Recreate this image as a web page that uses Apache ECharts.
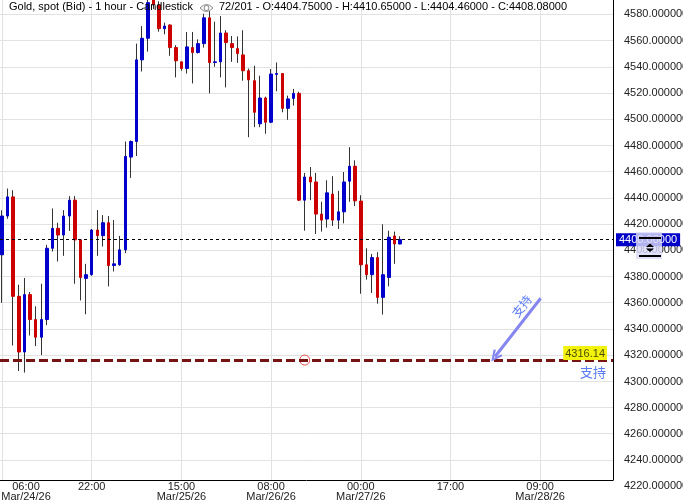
<!DOCTYPE html>
<html><head><meta charset="utf-8">
<script src="https://cdn.jsdelivr.net/npm/echarts@6/dist/echarts.min.js"></script>
<style>html,body{margin:0;padding:0;background:#fff}#c{width:683px;height:503px}</style>
</head><body><div id="c"></div>
<script>
// ---- data (hourly candles, index 0 = 06:00 Mar/24/26) ----
const opens  = [4396.5,4426.1,4440.7,4364.8,4322.3,4366.1,4347.1,4333.6,4347.1,4401.5,4416.7,4411.6,4426.1,4438.2,4407.9,4378.5,4381.3,4415.4,4411.1,4421.0,4388.3,4388.9,4400.3,4471.1,4483.0,4545.3,4561.8,4593.0,4587.0,4569.1,4571.9,4554.7,4543.8,4538.7,4554.7,4550.9,4557.7,4577.4,4543.3,4543.8,4565.8,4557.7,4553.9,4549.1,4537.0,4529.4,4496.5,4516.2,4497.7,4534.2,4534.9,4508.3,4515.9,4519.7,4438.2,4455.9,4452.1,4427.6,4423.8,4442.8,4423.0,4429.3,4452.7,4464.1,4437.5,4388.9,4381.3,4394.4,4364.0,4379.2,4410.9,4404.75];
const closes = [4426.1,4440.7,4364.8,4322.3,4366.1,4347.1,4333.6,4347.1,4401.5,4416.7,4411.6,4426.1,4438.2,4407.9,4379.2,4381.3,4415.4,4411.1,4421.0,4388.3,4389.6,4400.3,4471.6,4483.0,4545.3,4561.8,4589.0,4587.5,4569.1,4571.1,4554.7,4544.6,4538.7,4555.2,4550.9,4557.7,4577.4,4543.3,4543.8,4565.8,4558.5,4554.7,4550.1,4537.0,4530.1,4505.3,4516.2,4497.7,4534.5,4534.9,4508.3,4515.5,4519.7,4438.2,4455.9,4452.1,4427.6,4423.0,4443.8,4423.0,4429.3,4452.1,4464.1,4437.7,4388.9,4381.3,4394.4,4364.0,4381.3,4409.9,4404.8,4408.08];
const lows   = [4359.8,4424.0,4327.3,4307.8,4306.6,4334.9,4326.8,4320.0,4342.8,4399.0,4391.4,4395.7,4414.7,4374.4,4361.7,4351.1,4380.5,4395.7,4402.8,4372.4,4383.8,4388.1,4397.7,4455.2,4471.9,4536.4,4551.6,4584.0,4566.8,4564.8,4548.4,4531.9,4537.0,4534.9,4527.3,4550.1,4554.7,4519.7,4540.0,4531.9,4524.3,4543.8,4543.0,4529.4,4486.3,4493.9,4493.9,4488.9,4497.0,4521.3,4505.3,4499.5,4510.4,4437.5,4414.9,4438.2,4412.4,4414.2,4417.2,4418.5,4416.2,4420.5,4437.0,4433.7,4366.8,4377.5,4367.4,4359.2,4350.9,4372.4,4389.6,4404.46];
const highs  = [4430.5,4447.1,4445.8,4373.7,4378.8,4368.1,4357.2,4374.4,4404.1,4431.9,4421.0,4430.6,4441.3,4441.3,4408.5,4389.6,4416.2,4430.6,4426.8,4426.1,4423.0,4410.9,4483.0,4483.8,4557.7,4571.1,4594.0,4597.0,4590.0,4573.7,4572.5,4556.5,4543.8,4566.6,4566.6,4561.0,4580.5,4582.5,4574.4,4578.7,4567.9,4563.5,4563.2,4567.9,4538.7,4540.8,4533.2,4517.2,4538.3,4543.3,4535.2,4518.0,4523.1,4521.0,4459.0,4463.5,4459.0,4437.0,4453.4,4456.5,4445.3,4459.7,4478.7,4468.6,4442.0,4401.5,4397.2,4398.5,4419.8,4414.9,4414.2,4410.65];

const xTickIdx    = [0, 16, 32, 48, 64, 80, 96];
const xTickLabels = ['06:00\nMar/24/26', '22:00', '15:00\nMar/25/26', '08:00\nMar/26/26', '00:00\nMar/27/26', '17:00', '09:00\nMar/28/26'];
const yTickLabels = [4220,4240,4260,4280,4300,4320,4340,4360,4380,4400,4420,4440,4460,4480,4500,4520,4540,4560,4580];
const yGridValues = [4240,4260,4280,4300,4320,4340,4360,4380,4400,4420,4440,4460,4480,4500,4520,4540,4560,4580];

const supportLevel = 4316.14;
const supportText = '支持';
const supportCircle = [[54, 4316.14]];
const supportArrow = [[87.94, 4318.7], [96.1, 4363.3]];
const totalBars = 201;

const X_MIN = -0.36, X_MAX = 109.0;
const Y_MAX = 4591, Y_MIN_PLOT = 4224.6, Y_MIN_LABEL = 4218;

const n = closes.length;
const lastO = opens[n-1], lastC = closes[n-1], lastL = lows[n-1], lastH = highs[n-1];

const wickData = opens.map((o, i) => [i, o, closes[i], lows[i], highs[i]]);
const bodyData = opens.map((o, i) => [i, o, closes[i], Math.min(o, closes[i]), Math.max(o, closes[i])]);

const FONT = 'Liberation Sans, Arial, sans-serif';
const CJK = 'Noto Sans CJK SC, sans-serif';
const chevron = 'path://M5,0 L10,9 L8.2,10 L5,3.6 L1.8,10 L0,9 Z';

const chart = echarts.init(document.getElementById('c'), null, {renderer: 'canvas'});
chart.setOption({
  animation: false,
  backgroundColor: '#fff',
  textStyle: {fontFamily: FONT},
  title: [
    {text: 'Gold, spot (Bid) - 1 hour - Candlestick', left: 9, top: 1, padding: 0,
     textStyle: {fontSize: 11, fontWeight: 'normal', color: '#000', fontFamily: FONT}},
    {text: n + '/' + totalBars + ' - O:' + lastO.toFixed(5) + ' - H:' + lastH.toFixed(5) + ' - L:' + lastL.toFixed(5) + ' - C:' + lastC.toFixed(5),
     left: 219, top: 1, padding: 0,
     textStyle: {fontSize: 11, fontWeight: 'normal', color: '#000', fontFamily: FONT}}
  ],
  grid: [
    {left: 0, top: 0, width: 613, height: 480, outerBoundsMode: 'none', containLabel: false},
    {left: 0, top: 0, width: 613, height: 489, outerBoundsMode: 'none', containLabel: false}
  ],
  xAxis: [
    {type: 'value', gridIndex: 0, min: X_MIN, max: X_MAX,
     axisLine: {show: true, onZero: false, lineStyle: {color: '#000', width: 1}},
     axisTick: {show: false, customValues: xTickIdx},
     splitLine: {show: true, lineStyle: {color: '#e2e2e2', width: 1}},
     axisLabel: {show: true, customValues: xTickIdx, margin: 2, fontSize: 11, lineHeight: 10, color: '#222', fontFamily: FONT,
       formatter: function (v) {
         const k = xTickIdx.indexOf(Math.round(v));
         if (k < 0) return '';
         if (k === 0) {
           return xTickLabels[0].split('\n').map(s => '{f|' + s + '}').join('\n');
         }
         return xTickLabels[k];
       },
       rich: {f: {fontSize: 11, lineHeight: 10, color: '#222', fontFamily: FONT, padding: [0, 0, 0, 48]}}
     }},
    {type: 'value', gridIndex: 1, min: X_MIN, max: X_MAX, show: false}
  ],
  yAxis: [
    {type: 'value', gridIndex: 0, position: 'right', min: Y_MIN_PLOT, max: Y_MAX,
     axisLine: {show: true, onZero: false, lineStyle: {color: '#000', width: 1}},
     axisTick: {show: false, customValues: yGridValues},
     axisLabel: {show: false, customValues: yGridValues},
     splitLine: {show: true, lineStyle: {color: '#e2e2e2', width: 1}}},
    {type: 'value', gridIndex: 1, position: 'right', min: Y_MIN_LABEL, max: Y_MAX,
     axisLine: {show: false, onZero: false}, splitLine: {show: false},
     axisTick: {show: false, customValues: yTickLabels},
     axisLabel: {show: true, customValues: yTickLabels, showMinLabel: true, showMaxLabel: true, margin: 11, fontSize: 11, color: '#222', fontFamily: FONT,
       formatter: v => v.toFixed(6)}}
  ],
  series: [
    {type: 'candlestick', name: 'wick', xAxisIndex: 0, yAxisIndex: 0, data: wickData, barWidth: 1, z: 2,
     itemStyle: {color: '#333', color0: '#333', borderColor: '#333', borderColor0: '#333', borderWidth: 1},
     emphasis: {disabled: true}, silent: true},
    {type: 'candlestick', name: 'body', xAxisIndex: 0, yAxisIndex: 0, data: bodyData, barWidth: 3, z: 3,
     itemStyle: {color: '#0000cc', color0: '#cc0000', borderColor: '#0000cc', borderColor0: '#cc0000', borderWidth: 1},
     emphasis: {disabled: true}, silent: true},
    {type: 'scatter', xAxisIndex: 0, yAxisIndex: 0, data: supportCircle, symbol: 'circle', symbolSize: 10, z: 4, silent: true,
     itemStyle: {color: 'rgba(0,0,0,0)', borderColor: '#e02828', borderWidth: 1},
     markLine: {
       silent: true, symbol: ['none', 'none'], animation: false,
       data: [
         {yAxis: supportLevel, lineStyle: {color: 'rgba(0,0,0,0)', width: 1, type: 'solid'},
          label: {show: true, position: 'insideEndBottom', formatter: supportText, color: '#5a7af2', distance: [7, 5], fontSize: 13, fontFamily: CJK}},
         {yAxis: supportLevel, lineStyle: {color: '#761414', width: 3, type: [9, 4]},
          label: {show: true, position: 'insideEndTop', formatter: supportLevel.toFixed(2), backgroundColor: '#f2f20c',
                  color: '#4d4d00', padding: [2, 2, 1, 2], distance: [6, 0], fontSize: 11, fontFamily: FONT}},
         {yAxis: lastC, lineStyle: {color: '#000', width: 1, type: [3, 3]},
          label: {show: true, position: 'end', formatter: lastC.toFixed(5), backgroundColor: '#0000c8', color: '#fff',
                  padding: [1, 3, 1, 3], distance: 3, fontSize: 11, fontFamily: FONT}},
         [
           {coord: supportArrow[0], symbol: chevron, symbolSize: [11, 12]},
           {coord: supportArrow[1], symbol: 'none',
            lineStyle: {color: '#8686f0', width: 3, type: 'solid'},
            label: {show: true, position: 'insideEndTop', formatter: supportText, color: '#5a7af2', distance: [6, 4], fontSize: 12, fontFamily: CJK}}
         ]
       ]
     }}
  ],
  graphic: [
    {type: 'bezierCurve', z: 100, shape: {x1: 200, y1: 8, x2: 213, y2: 8, cpx1: 206.5, cpy1: 1}, style: {fill: 'none', stroke: '#888', lineWidth: 1}},
    {type: 'bezierCurve', z: 100, shape: {x1: 200, y1: 8, x2: 213, y2: 8, cpx1: 206.5, cpy1: 15}, style: {fill: 'none', stroke: '#888', lineWidth: 1}},
    {type: 'circle', z: 100, shape: {cx: 206.5, cy: 8, r: 2.5}, style: {fill: 'none', stroke: '#888', lineWidth: 1}},
    {type: 'rect', z: 100, shape: {x: 636, y: 232, width: 26, height: 27}, style: {fill: 'rgba(218,218,248,0.82)'}},
    {type: 'rect', z: 101, shape: {x: 639, y: 237, width: 22, height: 2}, style: {fill: '#000'}},
    {type: 'polygon', z: 101, shape: {points: [[646, 247], [650, 243.5], [654, 247]]}, style: {fill: '#000'}},
    {type: 'polygon', z: 101, shape: {points: [[646, 248.5], [650, 252], [654, 248.5]]}, style: {fill: '#000'}},
    {type: 'rect', z: 101, shape: {x: 639, y: 255, width: 22, height: 2}, style: {fill: '#000'}}
  ]
});
</script></body></html>
